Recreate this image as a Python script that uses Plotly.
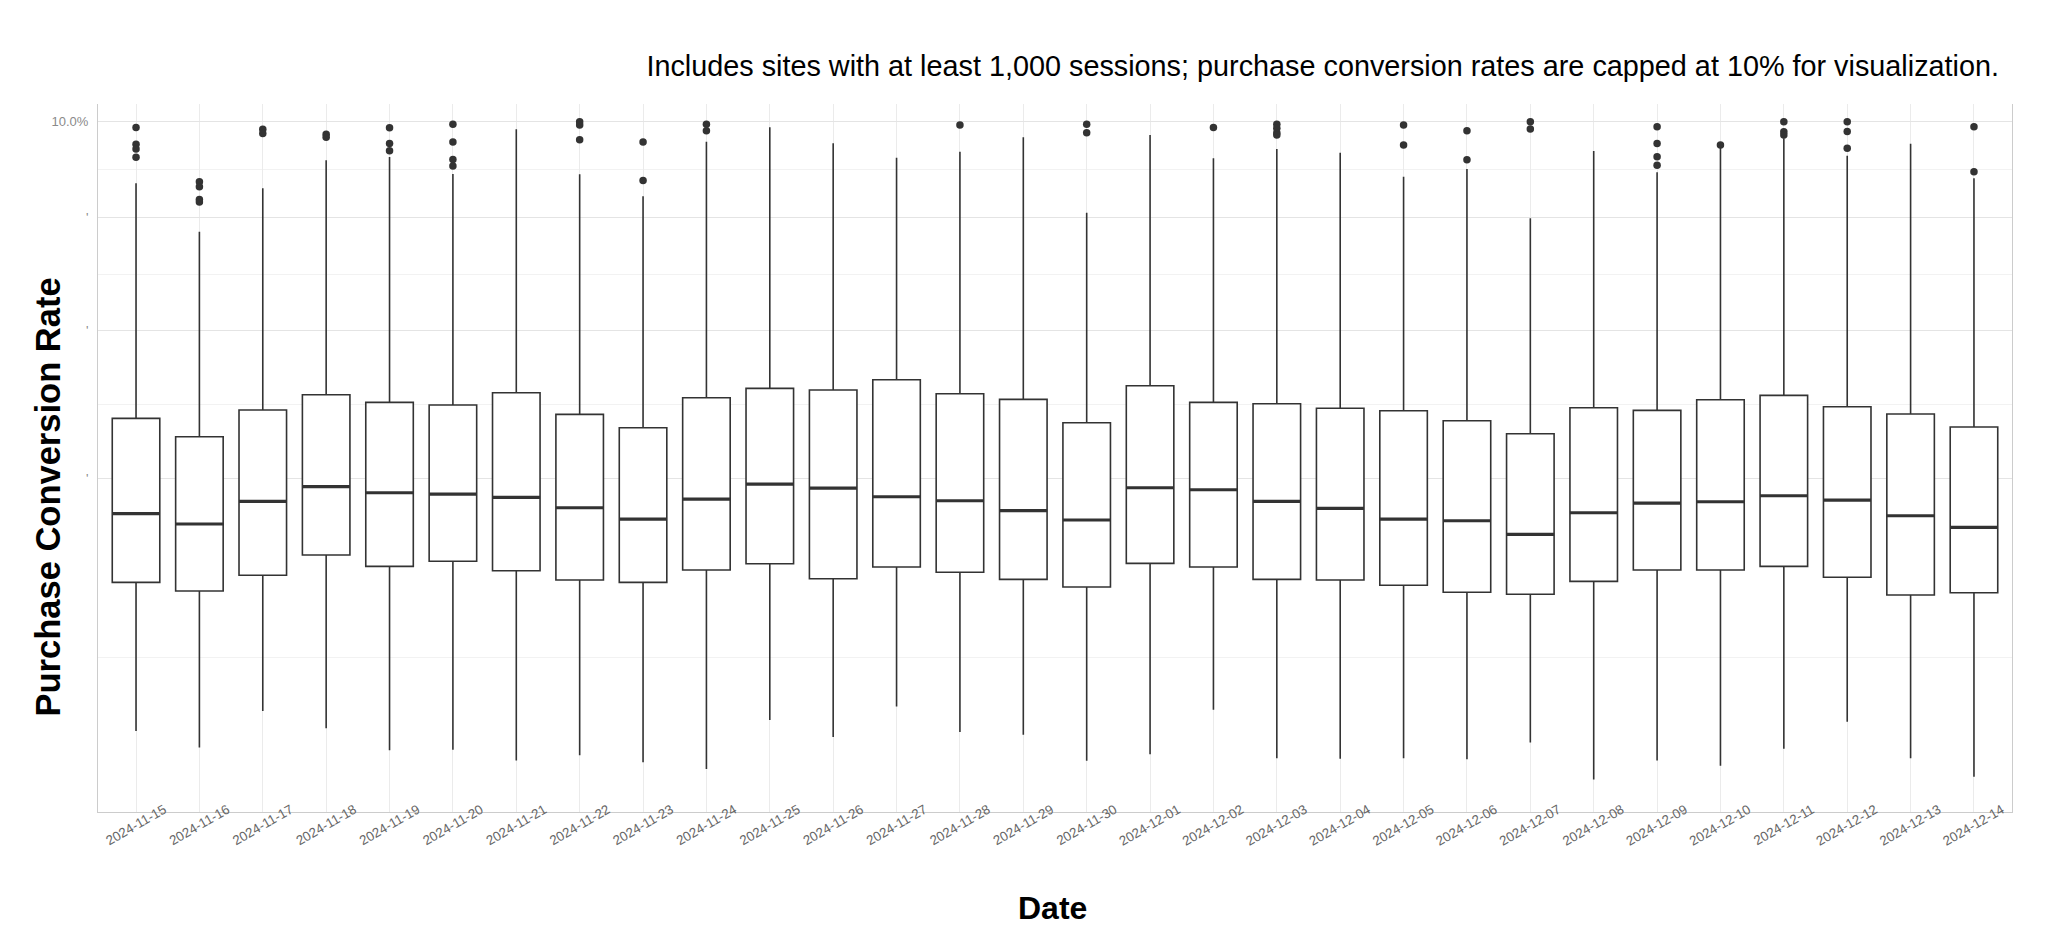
import numpy as np
import plotly.graph_objects as go

dates = ["2024-11-15", "2024-11-16", "2024-11-17", "2024-11-18", "2024-11-19", "2024-11-20",
         "2024-11-21", "2024-11-22", "2024-11-23", "2024-11-24", "2024-11-25", "2024-11-26",
         "2024-11-27", "2024-11-28", "2024-11-29", "2024-11-30", "2024-12-01", "2024-12-02",
         "2024-12-03", "2024-12-04", "2024-12-05", "2024-12-06", "2024-12-07", "2024-12-08",
         "2024-12-09", "2024-12-10", "2024-12-11", "2024-12-12", "2024-12-13", "2024-12-14"]

# purchase conversion rate, in percent
q3 = [3.417, 3.122, 3.554, 3.815, 3.684, 3.638, 3.849, 3.483, 3.265, 3.763, 3.926, 3.896, 4.078, 3.832, 3.735,
      3.346, 3.972, 3.684, 3.660, 3.583, 3.543, 3.378, 3.170, 3.593, 3.549, 3.728, 3.804, 3.610, 3.488, 3.276]
median = [2.034, 1.906, 2.193, 2.389, 2.307, 2.290, 2.246, 2.110, 1.967, 2.223, 2.426, 2.371, 2.254, 2.201, 2.072,
          1.955, 2.375, 2.348, 2.193, 2.102, 1.967, 1.946, 1.782, 2.046, 2.171, 2.188, 2.267, 2.210, 2.008, 1.865]
q1 = [1.259, 1.174, 1.330, 1.545, 1.423, 1.477, 1.377, 1.282, 1.259, 1.385, 1.451, 1.295, 1.416, 1.361, 1.289,
      1.213, 1.455, 1.416, 1.289, 1.282, 1.230, 1.162, 1.143, 1.269, 1.385, 1.385, 1.423, 1.310, 1.136, 1.158]
whisker_high = [8.348, 7.155, 8.220, 8.947, 9.035, 8.588, 9.787, 8.580, 8.019, 9.447, 9.843, 9.403, 9.016, 9.176, 9.567,
                7.613, 9.630, 9.000, 9.249, 9.149, 8.518, 8.718, 7.476, 9.195, 8.632, 9.276, 9.540, 9.069, 9.392, 8.477]
whisker_low = [0.215, 0.153, 0.305, 0.226, 0.143, 0.145, 0.111, 0.127, 0.106, 0.087, 0.263, 0.191, 0.328, 0.211, 0.200,
               0.110, 0.130, 0.311, 0.118, 0.116, 0.118, 0.115, 0.170, 0.062, 0.111, 0.096, 0.148, 0.255, 0.118, 0.068]

outlier_dates = (["2024-11-15"] * 4 + ["2024-11-16"] * 4 + ["2024-11-17"] * 2 + ["2024-11-18"] * 2 +
                 ["2024-11-19"] * 3 + ["2024-11-20"] * 4 + ["2024-11-22"] * 3 + ["2024-11-23"] * 2 +
                 ["2024-11-24"] * 2 + ["2024-11-28"] + ["2024-11-30"] * 2 + ["2024-12-02"] +
                 ["2024-12-03"] * 4 + ["2024-12-05"] * 2 + ["2024-12-06"] * 2 + ["2024-12-07"] * 2 +
                 ["2024-12-09"] * 4 + ["2024-12-10"] + ["2024-12-11"] * 3 + ["2024-12-12"] * 3 +
                 ["2024-12-14"] * 2)
outlier_values = [9.84, 9.38, 9.25, 9.03,
                  8.39, 8.26, 7.94, 7.88,
                  9.79, 9.67,
                  9.65, 9.57,
                  9.83, 9.40, 9.20,
                  9.93, 9.44, 8.97, 8.80,
                  10.0, 9.91, 9.50,
                  9.44, 8.42,
                  9.93, 9.75,
                  9.91,
                  9.93, 9.69,
                  9.84,
                  9.93, 9.82, 9.69, 9.63,
                  9.91, 9.36,
                  9.75, 8.96,
                  10.0, 9.80,
                  9.86, 9.40, 9.04, 8.82,
                  9.36,
                  10.0, 9.72, 9.63,
                  10.0, 9.73, 9.27,
                  9.86, 8.65]

y_major_values = [2.5, 5.0, 7.5, 10.0]
y_tick_labels = ["'", "'", "'", "10.0%"]

subtitle = ("Includes sites with at least 1,000 sessions; purchase conversion rates are capped at 10% "
            "for visualization.")

# square-root scale (plotly has no sqrt axis type, so values are transformed)
sq = np.sqrt
major_t = sq(np.array(y_major_values))
minor_t = (np.concatenate([[0.0], major_t[:-1]]) + major_t) / 2

LINE = "#333333"
FONT = "Liberation Sans, Arial, sans-serif"

# the page body has an 8px margin, so the figure is sized to fit the window
W, H, OFF = 2040, 933, 8
PL, PR, PT, PB = 98, 2012, 104, 812   # panel edges in window pixels
PW, PH = PR - PL, PB - PT

fig = go.Figure()
fig.add_trace(go.Box(
    x=dates,
    q1=sq(q1), median=sq(median), q3=sq(q3),
    lowerfence=sq(whisker_low), upperfence=sq(whisker_high),
    boxpoints=False, width=0.75, whiskerwidth=0,
    fillcolor="white", line=dict(color=LINE, width=1.6),
    showlegend=False, hoverinfo="skip",
))
fig.add_trace(go.Scatter(
    x=dates, y=sq(median), mode="markers",
    marker=dict(symbol="line-ew", size=0.75 * PW / 30.2 / 1.4, line=dict(color=LINE, width=3.2)),
    showlegend=False, hoverinfo="skip",
))
fig.add_trace(go.Scatter(
    x=outlier_dates, y=sq(outlier_values), mode="markers",
    marker=dict(color=LINE, size=7.5, line=dict(width=0)),
    showlegend=False, hoverinfo="skip",
))

fig.update_layout(
    width=W, height=H, autosize=False,
    margin=dict(l=PL - OFF, r=OFF + W - PR, t=PT - OFF, b=OFF + H - PB, pad=0, autoexpand=False),
    paper_bgcolor="white", plot_bgcolor="white",
    font=dict(family=FONT, color="#000000"),
    title=dict(text=subtitle, font=dict(family=FONT, size=28.8, color="#000000"),
               xref="container", x=(1999 - OFF) / W, xanchor="right",
               yref="container", y=1 - (66 - OFF) / H, yanchor="middle"),
)
fig.update_xaxes(
    type="category", categoryorder="array", categoryarray=dates,
    range=[-0.6, len(dates) - 0.4],
    showgrid=True, gridcolor="#ebebeb", gridwidth=1,
    showline=True, linecolor="#cccccc", linewidth=1,
    ticks="", tickangle=-30, ticklabelshift=28, ticklabelstandoff=-16,
    tickfont=dict(family=FONT, size=13.3, color="#666666"),
    zeroline=False, automargin=False,
)
fig.update_yaxes(
    range=[0.105, 3.2407],
    tickmode="array", tickvals=major_t, ticktext=y_tick_labels,
    tickfont=dict(family=FONT, size=13, color="#8a8a8a"),
    ticks="", ticklabelstandoff=6,
    showgrid=True, gridcolor="#e4e4e4", gridwidth=1,
    minor=dict(tickmode="array", tickvals=minor_t, showgrid=True, gridcolor="#f2f2f2", gridwidth=1),
    showline=True, linecolor="#cccccc", linewidth=1, mirror=True,
    zeroline=False, automargin=False,
)

fig.add_annotation(text="<b>Purchase Conversion Rate</b>", textangle=-90,
                   xref="paper", yref="paper", x=(47 - PL) / PW, y=(PB - 497.5) / PH,
                   xanchor="center", yanchor="middle", showarrow=False,
                   font=dict(family=FONT, size=34.5, color="#000000"))
fig.add_annotation(text="<b>Date</b>",
                   xref="paper", yref="paper", x=(1052 - PL) / PW, y=(PB - 908) / PH,
                   xanchor="center", yanchor="middle", showarrow=False,
                   font=dict(family=FONT, size=32, color="#000000"))

fig.write_html("out.html")
